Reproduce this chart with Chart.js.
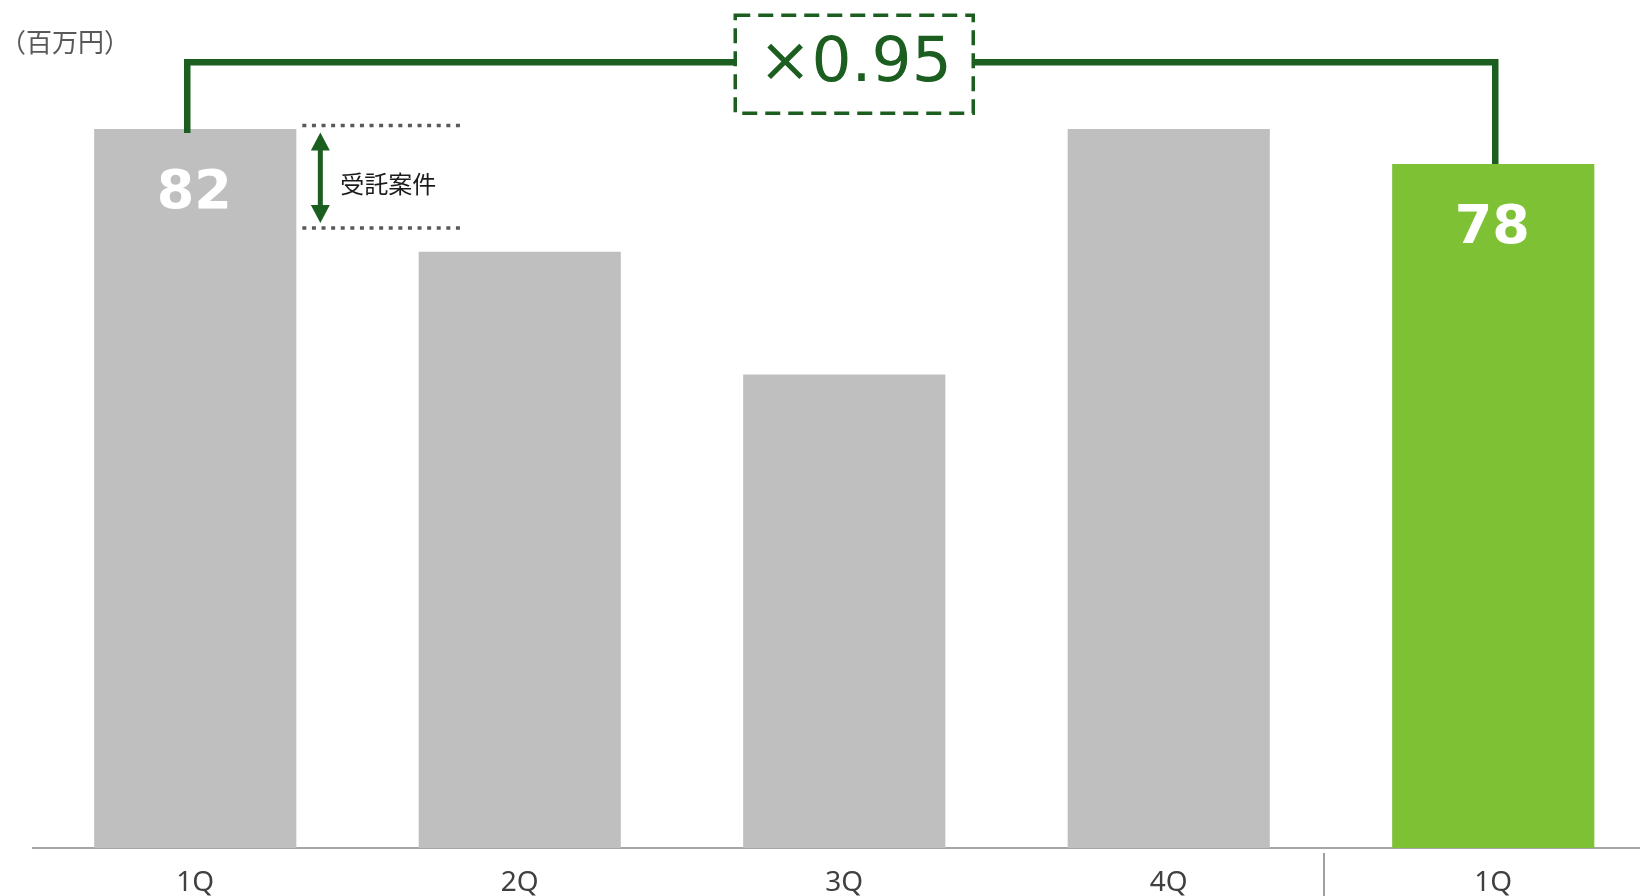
<!DOCTYPE html>
<html>
<head>
<meta charset="utf-8">
<script src="https://cdn.jsdelivr.net/npm/chart.js@4"></script>
<style>
  html, body { margin: 0; padding: 0; background: #fff; overflow: hidden; }
  #wrap { position: absolute; left: 0; top: 0; }
</style>
</head>
<body>
<div id="wrap"><canvas id="salesChart" width="1660" height="896"></canvas></div>
<script>
// квартальные данные (млн иен)
const quarters = ['1Q', '2Q', '3Q', '4Q', '1Q'];
const sales = [82, 68, 54, 82, 78];
const barColors = ['#bfbfbf', '#bfbfbf', '#bfbfbf', '#bfbfbf', '#7fc134'];
const showValue = [true, false, false, false, true];
const contractRange = [70.7, 82.4]; // диапазон "受託案件" у первого столбца
const ratioText = '×0.95';
const unitText = '（百万円）';
const yMax = 95;

const GREEN = '#1b5e20';

//------------подписи, скобка и пояснения поверх графика-----------------
const overlayPlugin = {
  id: 'overlay',
  afterDatasetsDraw(chart) {
    const ctx = chart.ctx;
    const y = chart.scales.y;
    const bars = chart.getDatasetMeta(0).data;
    ctx.save();

    // значения внутри столбцов
    ctx.fillStyle = '#fff';
    ctx.font = 'bold 54px "DejaVu Sans"';
    ctx.textAlign = 'center';
    ctx.textBaseline = 'alphabetic';
    bars.forEach((bar, i) => {
      if (!showValue[i]) return;
      ctx.fillText(String(sales[i]), bar.x - 1, y.getPixelForValue(sales[i]) + 79);
    });

    // скобка сравнения 1Q -> 1Q
    const first = bars[0], last = bars[bars.length - 1];
    const xl = first.x - 8, xr = last.x + 2;
    const yl = y.getPixelForValue(89.6);
    const boxW = 238, boxH = 98;
    const boxCx = chart.scales.x.getPixelForValue(2) + 10;
    const boxCy = yl + 2;
    ctx.strokeStyle = GREEN;
    ctx.lineWidth = 6.5;
    ctx.lineCap = 'butt';
    ctx.beginPath();
    ctx.moveTo(xl, y.getPixelForValue(sales[0]) + 4);
    ctx.lineTo(xl, yl);
    ctx.lineTo(boxCx - boxW / 2, yl);
    ctx.moveTo(boxCx + boxW / 2, yl);
    ctx.lineTo(xr, yl);
    ctx.lineTo(xr, y.getPixelForValue(sales[4]));
    ctx.stroke();

    // пунктирная рамка с коэффициентом
    ctx.lineWidth = 3.5;
    ctx.setLineDash([15, 8]);
    ctx.strokeRect(boxCx - boxW / 2, boxCy - boxH / 2, boxW, boxH);
    ctx.setLineDash([]);
    ctx.fillStyle = GREEN;
    ctx.font = '63px "DejaVu Sans"';
    ctx.fillText(ratioText, boxCx + 1, boxCy + 17);

    // точечные линии и стрелка "受託案件"
    const x0 = first.x + first.width / 2 + 6;
    const yTop = y.getPixelForValue(contractRange[1]);
    const yBot = y.getPixelForValue(contractRange[0]);
    ctx.strokeStyle = '#595959';
    ctx.lineWidth = 3.5;
    ctx.setLineDash([4, 5.6]);
    [yTop, yBot].forEach(yy => {
      ctx.beginPath();
      ctx.moveTo(x0, yy);
      ctx.lineTo(x0 + 163, yy);
      ctx.stroke();
    });
    ctx.setLineDash([]);

    const ax = first.x + first.width / 2 + 24;
    const t1 = yTop + 7, t2 = yBot - 5;
    ctx.strokeStyle = GREEN;
    ctx.lineWidth = 5;
    ctx.beginPath();
    ctx.moveTo(ax, t1 + 15);
    ctx.lineTo(ax, t2 - 15);
    ctx.stroke();
    ctx.fillStyle = GREEN;
    ctx.beginPath();
    ctx.moveTo(ax, t1);
    ctx.lineTo(ax + 9.5, t1 + 18);
    ctx.lineTo(ax - 9.5, t1 + 18);
    ctx.closePath();
    ctx.moveTo(ax, t2);
    ctx.lineTo(ax + 9.5, t2 - 18);
    ctx.lineTo(ax - 9.5, t2 - 18);
    ctx.closePath();
    ctx.fill();

    ctx.fillStyle = '#1a1a1a';
    ctx.font = '24px "Noto Sans CJK JP"';
    ctx.textAlign = 'left';
    ctx.textBaseline = 'middle';
    ctx.fillText('受託案件', first.x + first.width / 2 + 44, (yTop + yBot) / 2 + 7);

    // единица измерения
    ctx.fillStyle = '#595959';
    ctx.font = '26px "Noto Sans CJK JP"';
    ctx.textBaseline = 'middle';
    ctx.fillText(unitText, 0, 42);

    // разделитель между годами
    const sx = (chart.scales.x.getPixelForValue(3) + chart.scales.x.getPixelForValue(4)) / 2 - 7;
    ctx.strokeStyle = '#808080';
    ctx.lineWidth = 1.5;
    ctx.beginPath();
    ctx.moveTo(sx, chart.chartArea.bottom + 5);
    ctx.lineTo(sx, chart.height);
    ctx.stroke();

    ctx.restore();
  }
};

window.addEventListener('load', () => { main1() });

function main1() {
  const ctx = document.getElementById('salesChart').getContext('2d');
  new Chart(ctx, {
    type: 'bar',
    data: {
      labels: quarters,
      datasets: [{
        data: sales,
        backgroundColor: barColors,
        borderWidth: 0,
        categoryPercentage: 1,
        barPercentage: 0.623
      }]
    },
    options: {
      responsive: false,
      animation: false,
      devicePixelRatio: 1,
      layout: { padding: { left: 33, right: 4.5, top: 15, bottom: 0 } },
      plugins: {
        legend: { display: false },
        tooltip: { enabled: false }
      },
      scales: {
        x: {
          grid: { display: false, drawTicks: false },
          border: { display: true, color: '#a6a6a6', width: 2 },
          ticks: {
            color: '#404040',
            font: { family: 'Noto Sans', size: 28 },
            padding: 18,
            autoSkip: false,
            maxRotation: 0
          },
          afterFit: (scale) => { scale.height = 48; }
        },
        y: {
          display: false,
          min: 0,
          max: yMax
        }
      }
    },
    plugins: [overlayPlugin]
  });
}
</script>
</body>
</html>
